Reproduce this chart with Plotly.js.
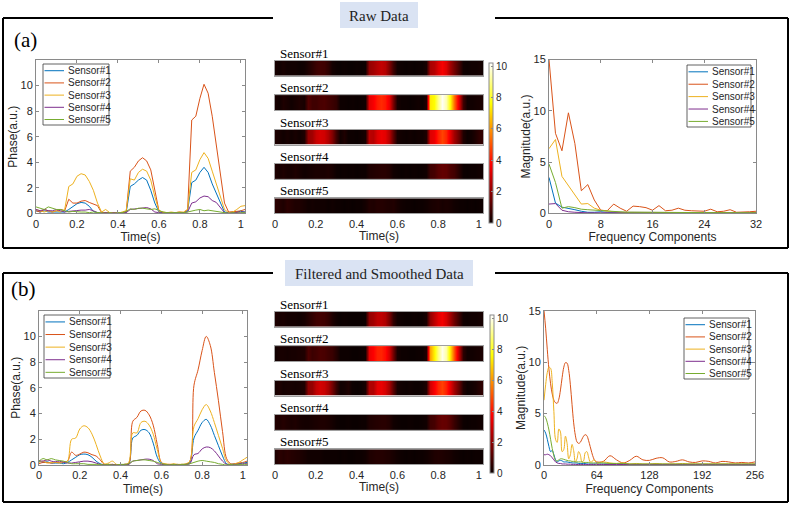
<!DOCTYPE html>
<html><head><meta charset="utf-8">
<script src="https://cdn.plot.ly/plotly-3.0.1.min.js"></script>
<style>html,body{margin:0;padding:0;background:#fff}#chart{width:793px;height:505px}</style>
</head><body><div id="chart"></div><script>
// ---------------- DATA ----------------
const sensorNames = ['Sensor#1','Sensor#2','Sensor#3','Sensor#4','Sensor#5'];
const timeS = [0,0.02,0.04,0.06,0.08,0.1,0.12,0.14,0.16,0.18,0.2,0.22,0.24,0.26,0.28,0.3,0.32,0.34,0.36,0.38,0.4,0.42,0.44,0.46,0.48,0.5,0.52,0.54,0.56,0.58,0.6,0.62,0.64,0.66,0.68,0.7,0.72,0.74,0.76,0.78,0.8,0.82,0.84,0.86,0.88,0.9,0.92,0.94,0.96,0.98,1,1.02];

// (a) raw phase
const rawS1 = [0.2,0.1,0.2,0.1,0.1,0.1,0.05,0.1,0.3,0.5, 0.75,0.85,0.8,0.55,0.15,0.05,0,0.05,0,0, 0.05,0,0.05,2.1,2.3,2.6,2.8,2.6,1.8,0.8, 0.1,0.05,0,0.05,0,0.05,0.05,0.2,2.4,2.6, 3.2,3.6,3.2,2.3,1.6,0.8,0.1,0.05,0.1,0.1, 0.15,0.1];
const rawS2 = [0.2,0.1,0.3,0.2,0.1,0.2,0.3,0.2,1.1,0.8, 0.8,0.95,1.0,0.85,0.75,0.6,0.05,0.05,0,0.05, 0,0.05,0.1,3.3,3.6,4.1,4.35,4.1,3.4,1.7, 0.2,0.05,0.05,0,0.05,0.1,0.05,0.3,7.3,7.6, 9.0,10.1,9.4,7.6,5.4,3.1,0.8,0.1,0.1,0.15, 0.2,0.3];
const rawS3 = [0.3,0.2,0.1,0.2,0.1,0.2,0.1,0.3,2.1,2.3, 2.9,3.1,3.0,2.5,1.8,0.8,0.1,0.3,0.05,0.05, 0,0.1,0.2,2.7,2.6,3.2,3.45,3.3,2.6,1.3, 0.2,0.1,0.05,0.1,0.05,0.1,0.1,0.3,3.2,3.4, 4.2,4.75,4.3,3.3,2.3,1.4,0.3,0.05,0.1,0.3, 0.55,0.6];
const rawS4 = [0.3,0.2,0.3,0.2,0.2,0.3,0.2,0.1,0.15,0.2, 0.25,0.25,0.25,0.3,0.2,0.05,0,0.05,0,0.05, 0,0.05,0.05,0.3,0.35,0.4,0.45,0.45,0.35,0.1, 0.05,0,0.05,0,0.05,0,0.05,0.1,0.8,0.9, 1.2,1.35,1.3,1.0,0.85,0.4,0.05,0,0.05,0.05, 0.1,0.1];
const rawS5 = [0.5,0.4,0.3,0.5,0.4,0.3,0.3,0.2,0.1,0.15, 0.1,0.1,0.1,0.05,0.1,0.05,0.05,0,0.05,0, 0.05,0.05,0.15,0.35,0.3,0.4,0.4,0.35,0.3,0.35, 0.2,0.1,0.05,0.05,0,0.05,0.05,0.1,0.2,0.25, 0.3,0.2,0.25,0.2,0.1,0.05,0.05,0,0.05,0, 0.05,0.05];

// (b) filtered & smoothed phase
const smoothS1 = [0.3,0.2,0.25,0.15,0.15,0.15,0.1,0.2,0.4,0.6, 0.8,0.85,0.8,0.6,0.3,0.1,0,0.05,0,0, 0,0,0.05,2.1,2.3,2.7,2.75,2.5,1.7,0.6, 0.1,0.05,0,0,0.05,0,0.05,0.2,2.1,2.7, 3.3,3.55,3.1,2.3,1.5,0.7,0.1,0.05,0.1,0.1, 0.15,0.2];
const smoothS2 = [0.1,0.2,0.2,0.15,0.2,0.2,0.25,0.3,1.0,0.75, 0.85,1.0,0.95,0.8,0.7,0.4,0.05,0.05,0.05,0, 0,0.05,0.1,3.4,3.7,4.2,4.25,3.9,3.1,1.6, 0.2,0.05,0.05,0,0,0.05,0.05,0.3,6.2,7.4, 8.9,10.0,9.3,7.2,5.0,2.6,0.5,0.1,0.1,0.15, 0.2,0.3];
const smoothS3 = [0.2,0.3,0.15,0.2,0.2,0.15,0.2,0.3,2.0,2.1, 2.8,3.05,2.9,2.4,1.6,0.7,0.1,0.15,0.3,0.05, 0,0.05,0.2,2.5,2.5,3.3,3.4,3.1,2.4,1.2, 0.2,0.1,0.05,0.1,0.05,0.05,0.1,0.3,3.0,3.6, 4.3,4.7,4.2,3.3,2.3,1.3,0.3,0.05,0.1,0.2, 0.4,0.6];
const smoothS4 = [0.35,0.3,0.4,0.3,0.25,0.3,0.2,0.15,0.15,0.2, 0.25,0.3,0.3,0.25,0.15,0.05,0,0,0.05,0, 0,0.05,0.05,0.3,0.35,0.4,0.45,0.45,0.35,0.1, 0.05,0,0,0.05,0,0,0.05,0.1,0.8,0.9, 1.25,1.4,1.35,1.1,0.7,0.3,0.05,0,0.05,0.05, 0.1,0.1];
const smoothS5 = [0.3,0.5,0.4,0.5,0.4,0.35,0.3,0.2,0.1,0.1, 0.1,0.1,0.05,0.05,0.05,0.05,0,0.05,0,0, 0.05,0.05,0.1,0.3,0.35,0.4,0.4,0.35,0.3,0.2, 0.1,0.05,0,0.05,0,0.05,0.05,0.1,0.2,0.3, 0.35,0.3,0.25,0.2,0.1,0.05,0,0.05,0,0.05, 0.05,0.05];

// (a) spectrum of raw data
const freqRaw = [0,1,2,3,4,5,6,7,8,9,10,11,12,13,14,15,16,17,18,19,20,21,22,23,24,25,26,27,28,29,30,31,32];
const fftRawS1 = [3.5,1.0,0.6,0.5,0.35,0.2,0.1,0.1,0.15,0.1,0.1,0.05,0.05,0.05,0.05,0.05,0.05,0.05,0.05,0.05,0.05,0.05,0.05,0.05,0.05,0.05,0.05,0.05,0.05,0.05,0.05,0.05,0.05];
const fftRawS2 = [15,7.8,6.1,9.8,6.8,2.2,2.8,1.3,0.3,0.25,0.9,0.5,0.2,0.7,0.65,0.55,0.3,0.75,0.25,0.3,0.5,0.3,0.25,0.2,0.2,0.4,0.15,0.2,0.35,0.1,0.1,0.15,0.2];
const fftRawS3 = [6.3,7.2,3.6,2.7,1.8,0.9,0.95,0.5,0.3,0.2,0.15,0.1,0.1,0.05,0.1,0.1,0.05,0.1,0.05,0.05,0.1,0.05,0.05,0.05,0.05,0.05,0.05,0.05,0.05,0.05,0.05,0.05,0.05];
const fftRawS4 = [0.9,0.95,0.3,0.15,0.1,0.05,0.05,0.05,0.05,0.03,0.03,0.03,0.03,0.03,0.03,0.03,0.03,0.03,0.03,0.03,0.03,0.03,0.03,0.03,0.03,0.03,0.03,0.03,0.03,0.03,0.03,0.03,0.03];
const fftRawS5 = [4.8,3.0,0.5,0.65,0.55,0.4,0.35,0.3,0.25,0.2,0.15,0.15,0.1,0.1,0.1,0.1,0.08,0.08,0.08,0.08,0.08,0.06,0.06,0.06,0.06,0.06,0.06,0.05,0.05,0.05,0.05,0.05,0.05];

// (b) spectrum of smoothed data
const freqSmooth = [0,2,4,6,8,10,12,14,16,18,20,22,24,26,28,30,32,34,36,38,40,42,44,46,48,50,52,54,56,58,60,62,64,72,80,88,96,104,112,120,128,136,144,152,160,168,176,184,192,200,208,216,224,232,240,248,256];
const fftSmoothS1 = [3.4,3.1,2.5,1.8,1.3,1.4,1.0,0.5,0.3,0.4,0.45,0.4,0.3,0.3,0.3,0.25,0.25,0.2,0.2,0.2,0.2,0.15,0.15,0.15,0.15,0.15,0.1,0.1,0.1,0.1,0.1,0.1,0.1,0.1,0.1,0.1,0.1,0.05,0.05,0.05,0.05,0.05,0.05,0.05,0.05,0.05,0.05,0.05,0.05,0.05,0.05,0.05,0.05,0.05,0.05,0.05,0.05];
const fftSmoothS2 = [15,13.3,11.2,9.3,7.9,6.9,6.3,6.05,6.0,6.4,7.3,8.5,9.5,9.95,9.9,9.2,7.8,5.9,4.1,2.9,2.25,2.1,2.2,2.5,2.8,2.95,2.85,2.4,1.8,1.2,0.7,0.4,0.3,0.35,0.9,0.5,0.2,0.45,0.85,0.5,0.45,0.65,0.7,0.3,0.35,0.5,0.3,0.25,0.4,0.35,0.2,0.35,0.3,0.2,0.25,0.2,0.3];
const fftSmoothS3 = [6.3,7.8,9.0,9.5,9.4,8.0,5.2,2.5,2.2,3.5,3.2,1.3,1.5,2.8,2.1,0.6,1.0,2.0,1.4,0.3,0.6,1.3,1.0,0.3,0.4,1.2,1.3,0.8,0.3,0.3,0.5,0.4,0.2,0.3,0.2,0.15,0.2,0.1,0.15,0.1,0.1,0.15,0.1,0.1,0.1,0.15,0.1,0.1,0.1,0.1,0.1,0.1,0.1,0.1,0.1,0.1,0.1];
const fftSmoothS4 = [1.0,1.0,1.05,1.0,0.9,0.7,0.5,0.3,0.2,0.15,0.15,0.1,0.1,0.1,0.08,0.08,0.08,0.06,0.06,0.06,0.05,0.05,0.05,0.05,0.05,0.05,0.05,0.05,0.05,0.05,0.05,0.05,0.05,0.05,0.05,0.05,0.05,0.05,0.05,0.05,0.05,0.05,0.05,0.05,0.05,0.05,0.05,0.05,0.05,0.05,0.05,0.05,0.05,0.05,0.05,0.05,0.05];
const fftSmoothS5 = [4.8,4.6,4.1,3.4,2.5,1.6,0.9,0.45,0.4,0.5,0.6,0.6,0.55,0.5,0.45,0.4,0.4,0.35,0.35,0.3,0.3,0.3,0.3,0.3,0.25,0.25,0.25,0.25,0.2,0.2,0.2,0.2,0.2,0.2,0.15,0.15,0.15,0.1,0.1,0.1,0.1,0.1,0.1,0.1,0.1,0.1,0.1,0.1,0.1,0.1,0.1,0.1,0.1,0.1,0.1,0.1,0.1];

// tick labels / texts
const phaseTicks = [0,2,4,6,8,10];
const timeTicks = [0,0.2,0.4,0.6,0.8,1];
const magTicks = [0,5,10,15];
const freqRawTicks = [0,8,16,24,32];
const freqSmoothTicks = [0,64,128,192,256];
const colorbarTicks = [0,2,4,6,8,10];
const panelTitles = ['Raw Data','Filtered and Smoothed Data'];
const panelLetters = ['(a)','(b)'];

// ---------------- LAYOUT HELPERS ----------------
const W = 793, H = 505;
const px = v => v / W, py = v => 1 - v / H;
const colors = ['#0072BD','#D95319','#EDB120','#7E2F8E','#77AC30'];
const SANS = 'Liberation Sans, Arial, sans-serif';
const SERIF = 'Liberation Serif, Times New Roman, serif';
const hot = [[0,'rgb(10,0,0)'],[0.365,'rgb(255,0,0)'],[0.746,'rgb(255,255,0)'],[1,'rgb(255,255,255)']];

const layout = {width:W,height:H,margin:{l:0,r:0,t:0,b:0},paper_bgcolor:'#fff',plot_bgcolor:'#fff',
  showlegend:false,shapes:[],annotations:[]};
const data = [];
let nAx = 0;
function addAxes(xd, yd, xo, yo){
  nAx++; const s = nAx === 1 ? '' : String(nAx);
  layout['xaxis'+s] = Object.assign({domain:[px(xd[0]),px(xd[1])],anchor:'y'+s}, xo);
  layout['yaxis'+s] = Object.assign({domain:[py(yd[1]),py(yd[0])],anchor:'x'+s}, yo);
  return {x:'x'+s, y:'y'+s};
}
const tickFont = {family:SANS,size:11,color:'#262626'};
const titleFont = {family:SANS,size:12,color:'#262626'};
function boxAxis(extra){
  return Object.assign({showline:true,linecolor:'#8a8a8a',linewidth:1,mirror:'ticks',ticks:'inside',ticklen:3,
    tickwidth:1,tickcolor:'#8a8a8a',showgrid:false,zeroline:false,tickfont:tickFont,fixedrange:true}, extra);
}
function hline(x0,x1,y,w,c){layout.shapes.push({type:'line',xref:'paper',yref:'paper',x0:px(x0),x1:px(x1),y0:py(y),y1:py(y),line:{color:c,width:w}});}
function vline(x,y0,y1,w,c){layout.shapes.push({type:'line',xref:'paper',yref:'paper',x0:px(x),x1:px(x),y0:py(y0),y1:py(y1),line:{color:c,width:w}});}
function text(x,y,s,font,xa){layout.annotations.push({xref:'paper',yref:'paper',x:px(x),y:py(y),text:s,showarrow:false,
  xanchor:xa||'center',yanchor:'middle',font:font});}
function addLegend(x0,y0,w,h){
  layout.shapes.push({type:'rect',xref:'paper',yref:'paper',x0:px(x0),x1:px(x0+w),y0:py(y0+h),y1:py(y0),
    line:{color:'#3a3a3a',width:0.8},fillcolor:'#fff'});
  sensorNames.forEach((nm,i)=>{
    const yy = y0 + h*(0.11 + 0.2*i);
    hline(x0+1.5, x0+21, yy, 1, colors[i]);
    text(x0+22.5, yy, nm, {family:SANS,size:10,color:'#262626'}, 'left');
  });
}

const panels = [
  {phase:[rawS1,rawS2,rawS3,rawS4,rawS5], fft:[fftRawS1,fftRawS2,fftRawS3,fftRawS4,fftRawS5], freq:freqRaw,
   fticks:freqRawTicks, frange:[0,32], smooth:false,
   line:[36,245,60,213.3], heat:{x0:275,x1:483,top:60.7,step:34.4,h:15}, cbar:[489,63,223], ca:'coloraxis',
   fbox:[549,756,59.5,213.3], legL:[43,64,66,61], legF:[687,65,64,62], frame:[18,248],
   tbox:[340,418,2,28], letter:[25,40]},
  {phase:[smoothS1,smoothS2,smoothS3,smoothS4,smoothS5], fft:[fftSmoothS1,fftSmoothS2,fftSmoothS3,fftSmoothS4,fftSmoothS5], freq:freqSmooth,
   fticks:freqSmoothTicks, frange:[0,256], smooth:true,
   line:[39,247,310.7,465], heat:{x0:275,x1:483,top:311.7,step:34.4,h:15}, cbar:[490,315,473], ca:'coloraxis2',
   fbox:[544,755,310.7,465], legL:[44,315,66,63], legF:[684,318,65,61], frame:[273,502],
   tbox:[285,473,260,286], letter:[23,289]}
];

panels.forEach((P,pi)=>{
  // frame
  const [fy0,fy1] = P.frame;
  hline(3,273,fy0,2,'#000'); hline(495,788,fy0,2,'#000');
  hline(3,788,fy1,2,'#000'); vline(3,fy0,fy1,2,'#000'); vline(788,fy0,fy1,2,'#000');
  // title box
  const [tx0,tx1,ty0,ty1] = P.tbox;
  layout.shapes.push({type:'rect',xref:'paper',yref:'paper',x0:px(tx0),x1:px(tx1),y0:py(ty1),y1:py(ty0),fillcolor:'#dae3f3',line:{width:0}});
  text((tx0+tx1)/2,(ty0+ty1)/2+0.5,panelTitles[pi],{family:SERIF,size:15,color:'#222'});
  text(P.letter[0],P.letter[1],panelLetters[pi],{family:SERIF,size:21,color:'#000'});

  // phase line plot
  const L = P.line;
  const a1 = addAxes([L[0],L[1]],[L[2],L[3]],
    boxAxis({range:[0,1.02],tickvals:timeTicks,title:{text:'Time(s)',font:titleFont,standoff:4}}),
    boxAxis({range:[0,12],tickvals:phaseTicks,title:{text:'Phase(a.u.)',font:titleFont,standoff:0}}));
  P.phase.forEach((s,i)=>data.push({type:'scatter',mode:'lines',x:timeS,y:s,xaxis:a1.x,yaxis:a1.y,name:sensorNames[i],
    line:{color:colors[i],width:1,shape:P.smooth?'spline':'linear'},hoverinfo:'skip'}));
  addLegend(...P.legL);

  // heat strips
  const Hh = P.heat;
  P.phase.forEach((s,i)=>{
    const top = Hh.top + i*Hh.step;
    const last = i === 4;
    const ax = addAxes([Hh.x0,Hh.x1],[top,top+Hh.h],
      {range:[0,1.02],tickvals:timeTicks,showticklabels:last,ticks:'',showline:true,mirror:true,linecolor:'#a0a0a0',linewidth:1,
       showgrid:false,zeroline:false,tickfont:tickFont,fixedrange:true,
       title:last?{text:'Time(s)',font:titleFont,standoff:2}:undefined},
      {range:[-0.5,0.5],showticklabels:false,ticks:'',showline:true,mirror:true,linecolor:'#a0a0a0',linewidth:1,
       showgrid:false,zeroline:false,fixedrange:true});
    data.push({type:'heatmap',x:timeS,y:[0],z:[s],xaxis:ax.x,yaxis:ax.y,coloraxis:P.ca,zsmooth:'best',hoverinfo:'skip'});
    text(Hh.x0+3, top-7.5, sensorNames[i], {family:SERIF,size:13,color:'#000'}, 'left');
  });
  const [cx,cy0,cy1] = P.cbar;
  layout[P.ca] = {cmin:0,cmax:10.2,colorscale:hot,showscale:true,
    colorbar:{x:px(cx),xanchor:'left',y:py((cy0+cy1)/2),yanchor:'middle',len:cy1-cy0,lenmode:'pixels',
      thickness:4,thicknessmode:'pixels',xpad:0,ypad:0,outlinewidth:1,outlinecolor:'#8a8a8a',
      tickvals:colorbarTicks,ticks:'inside',ticklen:2,tickcolor:'#8a8a8a',tickfont:{family:SANS,size:10,color:'#262626'}}};

  // FFT plot
  const F = P.fbox;
  const a2 = addAxes([F[0],F[1]],[F[2],F[3]],
    boxAxis({range:P.frange,tickvals:P.fticks,title:{text:'Frequency Components',font:titleFont,standoff:4}}),
    boxAxis({range:[0,15],tickvals:magTicks,title:{text:'Magnitude(a.u.)',font:titleFont,standoff:0}}));
  P.fft.forEach((s,i)=>data.push({type:'scatter',mode:'lines',x:P.freq,y:s,xaxis:a2.x,yaxis:a2.y,name:sensorNames[i],
    line:{color:colors[i],width:1,shape:P.smooth?'spline':'linear'},hoverinfo:'skip'}));
  addLegend(...P.legF);
});

Plotly.newPlot('chart', data, layout, {staticPlot:true, displayModeBar:false});
</script></body></html>
